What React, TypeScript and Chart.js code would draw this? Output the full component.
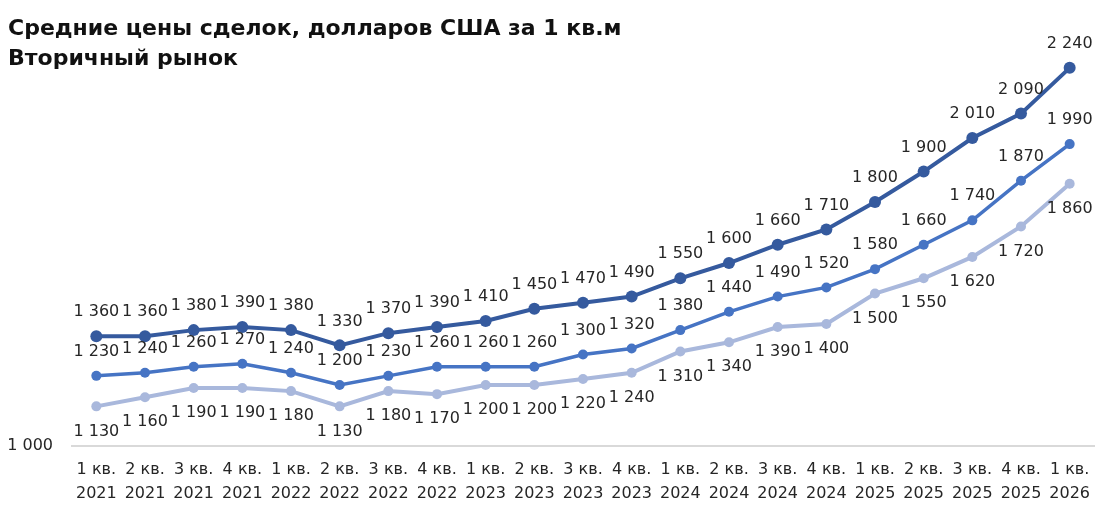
import React, { useEffect, useRef } from "react";
import { Chart, registerables } from "chart.js";

Chart.register(...registerables);

const quarters = ["1 кв.", "2 кв.", "3 кв.", "4 кв.", "1 кв.", "2 кв.", "3 кв.", "4 кв.", "1 кв.", "2 кв.", "3 кв.", "4 кв.", "1 кв.", "2 кв.", "3 кв.", "4 кв.", "1 кв.", "2 кв.", "3 кв.", "4 кв.", "1 кв."];
const years = ["2021", "2021", "2021", "2021", "2022", "2022", "2022", "2022", "2023", "2023", "2023", "2023", "2024", "2024", "2024", "2024", "2025", "2025", "2025", "2025", "2026"];

const seriesTop = [1360, 1360, 1380, 1390, 1380, 1330, 1370, 1390, 1410, 1450, 1470, 1490, 1550, 1600, 1660, 1710, 1800, 1900, 2010, 2090, 2240];
const seriesMid = [1230, 1240, 1260, 1270, 1240, 1200, 1230, 1260, 1260, 1260, 1300, 1320, 1380, 1440, 1490, 1520, 1580, 1660, 1740, 1870, 1990];
const seriesLow = [1130, 1160, 1190, 1190, 1180, 1130, 1180, 1170, 1200, 1200, 1220, 1240, 1310, 1340, 1390, 1400, 1500, 1550, 1620, 1720, 1860];

const yTicks = [1000];
const titleLines = ["Средние цены сделок, долларов США за 1 кв.м", "Вторичный рынок"];

const fmt = (v: number) => {
  const th = Math.floor(v / 1000);
  const rest = String(v % 1000).padStart(3, "0");
  return th > 0 ? `${th} ${rest}` : String(v);
};

const labelPlugin = {
  id: "pointLabels",
  afterDatasetsDraw(chart: any) {
    const ctx = chart.ctx;
    ctx.save();
    ctx.font = "16px 'DejaVu Sans'";
    ctx.fillStyle = "#262626";
    ctx.textAlign = "center";
    ctx.textBaseline = "middle";
    chart.data.datasets.forEach((ds: any, i: number) => {
      const meta = chart.getDatasetMeta(i);
      const pos = ds.labelPos;
      meta.data.forEach((pt: any, j: number) => {
        const v = ds.data[j];
        const y = pos === "below" ? pt.y + 25 : pt.y - 24;
        ctx.fillText(fmt(v), pt.x, y);
      });
    });
    ctx.restore();
  },
};

export default function App() {
  const ref = useRef<HTMLCanvasElement | null>(null);
  useEffect(() => {
    if (!ref.current) return;
    const chart = new Chart(ref.current, {
      type: "line",
      data: {
        labels: quarters.map((q, i) => [q, years[i]]),
        datasets: [
          {
            data: seriesTop,
            borderColor: "#355a9e",
            backgroundColor: "#355a9e",
            borderWidth: 4,
            pointRadius: 6,
            pointBorderWidth: 0,
            labelPos: "above",
          } as any,
          {
            data: seriesMid,
            borderColor: "#4674c4",
            backgroundColor: "#4674c4",
            borderWidth: 3.5,
            pointRadius: 5,
            pointBorderWidth: 0,
            labelPos: "above",
          } as any,
          {
            data: seriesLow,
            borderColor: "#a9b8dc",
            backgroundColor: "#a9b8dc",
            borderWidth: 4,
            pointRadius: 5,
            pointBorderWidth: 0,
            labelPos: "below",
          } as any,
        ],
      },
      options: {
        animation: false,
        responsive: true,
        maintainAspectRatio: false,
        layout: { padding: { top: 10, right: 5, left: 0, bottom: 0 } },
        plugins: {
          legend: { display: false },
          tooltip: { enabled: false },
          title: { display: false },
        },
        scales: {
          x: {
            offset: true,
            grid: { display: false, offset: true },
            border: { display: true, color: "#d9d9d9", width: 2 },
            ticks: {
              color: "#262626",
              font: { family: "'DejaVu Sans'", size: 16, lineHeight: 1.55 },
              padding: 3,
              maxRotation: 0,
              autoSkip: false,
            },
            afterFit: (s: any) => {
              s.height = 68;
            },
          },
          y: {
            min: 1000,
            max: 2395,
            grid: { display: false },
            border: { display: false },
            afterBuildTicks: (s: any) => {
              s.ticks = yTicks.map((v) => ({ value: v }));
            },
            ticks: {
              color: "#262626",
              font: { family: "'DejaVu Sans'", size: 16 },
              padding: 11,
              callback: (v: any) => fmt(Number(v)),
            },
            afterFit: (s: any) => {
              s.width = 72;
            },
          },
        },
      },
      plugins: [labelPlugin],
    });
    return () => chart.destroy();
  }, []);

  return (
    <div style={{ position: "fixed", left: 0, top: 0, width: 1100, height: 514, background: "#fff" }}>
      <canvas ref={ref} />
      <div
        style={{
          position: "absolute",
          left: 8,
          top: 13,
          fontFamily: "'DejaVu Sans', sans-serif",
          fontWeight: "bold",
          fontSize: 22,
          lineHeight: "30px",
          color: "#111",
          whiteSpace: "nowrap",
        }}
      >
        {titleLines.map((t, i) => (
          <div key={i}>{t}</div>
        ))}
      </div>
    </div>
  );
}
